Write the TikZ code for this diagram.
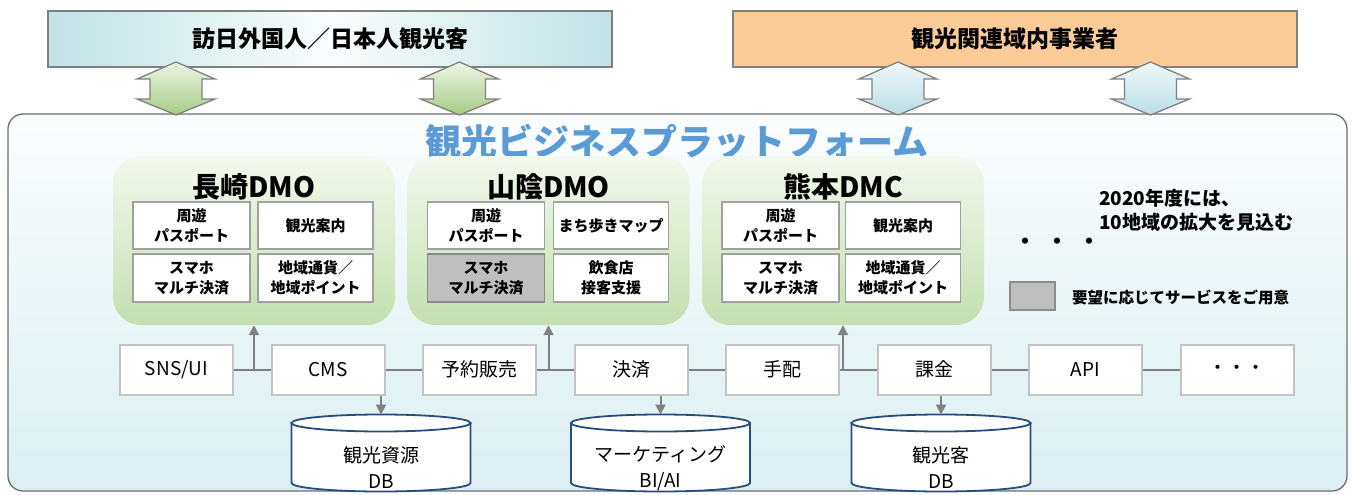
\documentclass[tikz,border=0pt]{standalone}
\usepackage{fontspec}
\setmainfont{Noto Sans CJK JP}
\usetikzlibrary{arrows.meta,calc}
\definecolor{tealE}{RGB}{193,226,229}
\definecolor{tealM}{RGB}{250,253,253}
\definecolor{peach}{RGB}{251,203,152}
\definecolor{gborder}{RGB}{128,128,128}
\definecolor{platT}{RGB}{251,253,254}
\definecolor{platB}{RGB}{219,239,242}
\definecolor{platD}{RGB}{110,110,110}
\definecolor{dmoT}{RGB}{243,249,238}
\definecolor{dmoB}{RGB}{196,223,175}
\definecolor{iboxB}{RGB}{160,160,160}
\definecolor{gfill}{RGB}{191,191,191}
\definecolor{gfillB}{RGB}{140,140,140}
\definecolor{rboxB}{RGB}{195,195,195}
\definecolor{connC}{RGB}{128,128,128}
\definecolor{navyC}{RGB}{38,78,125}
\definecolor{titleblue}{RGB}{91,155,213}
\definecolor{garT}{RGB}{238,245,230}
\definecolor{garB}{RGB}{165,204,130}
\definecolor{barT}{RGB}{240,248,250}
\definecolor{barB}{RGB}{186,222,230}
\newcommand\DblArr[2]{\path[#2] (#1,62) -- (#1+39,79) -- (#1+26,79) -- (#1+26,99) -- (#1+39,99) -- (#1,115) -- (#1-39,99) -- (#1-26,99) -- (#1-26,79) -- (#1-39,79) -- cycle;}
\newcommand\DBCyl[3]{%
  \begin{scope}[shift={(#1,0)}]
    \path[cyl] (-89.5,423) -- (-89.5,483) arc[start angle=180,end angle=360,x radius=89.5pt,y radius=8.5pt] -- (89.5,423) -- cycle;
    \path[cyl] (0,423) ellipse[x radius=89.5pt,y radius=8.5pt];
    \coordinate (#2) at (0,414.5);
    \node[cyltext] (#2t) at (0,468) {#3};
  \end{scope}}
\begin{document}
\begin{tikzpicture}[x=1pt,y=-1pt,
  topbox/.style={draw=gborder,line width=1.3pt,minimum width=564pt,minimum height=56pt,inner sep=0pt,font=\fontsize{23}{26}\selectfont\bfseries},
  mainbox/.style={draw=platD,line width=1.3pt,rounded corners=15pt,top color=platT,bottom color=platB,minimum width=1339pt,minimum height=377pt,inner sep=0pt},
  dmo/.style={rounded corners=28pt,top color=dmoT,bottom color=dmoB,draw=none,minimum width=282pt,minimum height=169pt,inner sep=0pt},
  dmotitle/.style={font=\fontsize{28}{30}\selectfont\bfseries,inner sep=0pt},
  ibox/.style={draw=iboxB,line width=1.5pt,fill=white,align=center,font=\fontsize{15}{20}\selectfont\bfseries,inner sep=0pt},
  iboxA/.style={ibox,minimum width=117pt},
  iboxB/.style={ibox,minimum width=115pt},
  rbox/.style={draw=rboxB,line width=2pt,fill=white,minimum width=113pt,minimum height=50pt,inner sep=0pt,font=\fontsize{19}{22}\selectfont},
  conn/.style={draw=connC,line width=2pt},
  arr/.style={conn,-{Triangle[width=10pt,length=10pt]}},
  cyl/.style={draw=navyC,line width=1.8pt,fill=white},
  cyltext/.style={align=center,font=\fontsize{19}{26}\selectfont,inner sep=0pt},
  garrow/.style={draw=gborder,line width=1.3pt,top color=garT,bottom color=garB},
  barrow/.style={draw=gborder,line width=1.3pt,top color=barT,bottom color=barB}]
\useasboundingbox (0,0) rectangle (1352,495);
% platform
\node[mainbox] (plat) at (677.5,302.5) {};
% top boxes
\node[topbox,left color=tealE,right color=tealE,middle color=tealM] (guest) at (330,39) {訪日外国人／日本人観光客};
\node[topbox,fill=peach] (biz) at (1015,39) {観光関連域内事業者};
% double arrows
\DblArr{176}{garrow}
\DblArr{459.5}{garrow}
\DblArr{898}{barrow}
\DblArr{1150.5}{barrow}
% title
\node[font=\fontsize{36}{40}\selectfont\bfseries,text=titleblue,inner sep=0pt] (title) at (677,142) {観光ビジネスプラットフォーム};
% DMOs
\node[dmo] (nag) at (254,240.5) {};
\node[dmo] (san) at (548.5,240.5) {};
\node[dmo] (kum) at (843,240.5) {};
\node[dmotitle] (nagt) at (254,187) {長崎DMO};
\node[dmotitle] (sant) at (548.5,187) {山陰DMO};
\node[dmotitle] (kumt) at (843,187) {熊本DMC};
% Nagasaki inner
\node[iboxA,minimum height=47pt] (n1) at (191.5,225.5) {周遊\\パスポート};
\node[iboxB,minimum height=47pt] (n2) at (315.5,225.5) {観光案内};
\node[iboxA,minimum height=48pt] (n3) at (191.5,278) {スマホ\\マルチ決済};
\node[iboxB,minimum height=48pt] (n4) at (315.5,278) {地域通貨／\\地域ポイント};
% San'in inner
\node[iboxA,minimum height=47pt] (s1) at (486,225.5) {周遊\\パスポート};
\node[iboxB,minimum height=47pt] (s2) at (611,225.5) {まち歩きマップ};
\node[iboxA,minimum height=48pt,fill=gfill,draw=gfillB] (s3) at (486,278) {スマホ\\マルチ決済};
\node[iboxB,minimum height=48pt] (s4) at (611,278) {飲食店\\接客支援};
% Kumamoto inner
\node[iboxA,minimum height=47pt] (k1) at (780.5,225.5) {周遊\\パスポート};
\node[iboxB,minimum height=47pt] (k2) at (903,225.5) {観光案内};
\node[iboxA,minimum height=48pt] (k3) at (780.5,278) {スマホ\\マルチ決済};
\node[iboxB,minimum height=48pt] (k4) at (903,278) {地域通貨／\\地域ポイント};
% right notes
\node[anchor=west,align=left,font=\fontsize{19}{24}\selectfont\bfseries,inner sep=0pt] (note) at (1099,210) {2020年度には、\\10地域の拡大を見込む};
\node[font=\fontsize{22}{24}\selectfont\bfseries,inner sep=0pt] (more) at (1057,244) {・\hspace{10pt}・\hspace{10pt}・};
\node[draw=gfillB,line width=1.3pt,fill=gfill,minimum width=45pt,minimum height=28pt,inner sep=0pt] (leg) at (1032.5,296) {};
\node[anchor=west,font=\fontsize{15.5}{18}\selectfont\bfseries,inner sep=0pt] (legt) at (1072,297) {要望に応じてサービスをご用意};
% bottom row
\node[rbox] (sns) at (176.5,369.5) {SNS/UI};
\node[rbox] (cms) at (328,369.5) {CMS};
\node[rbox] (yoy) at (479.5,369.5) {予約販売};
\node[rbox] (kes) at (631,369.5) {決済};
\node[rbox] (teh) at (782.5,369.5) {手配};
\node[rbox] (kak) at (934,369.5) {課金};
\node[rbox] (api) at (1085.5,369.5) {API};
\node[rbox] (etc) at (1237,369.5) {・・・};
\draw[conn] (sns) -- (cms) (cms) -- (yoy) (yoy) -- (kes) (kes) -- (teh) (teh) -- (kak) (kak) -- (api) (api) -- (etc);
\draw[arr] (nag.south |- sns.east) -- (nag.south);
\draw[arr] (san.south |- yoy.east) -- (san.south);
\draw[arr] (kum.south |- teh.east) -- (kum.south);
% databases
\DBCyl{381}{db1}{観光資源\\DB}
\DBCyl{660.5}{db2}{マーケティング\\BI/AI}
\DBCyl{941}{db3}{観光客\\DB}
\draw[arr] (db1 |- cms.south) -- (db1);
\draw[arr] (db2 |- kes.south) -- (db2);
\draw[arr] (db3 |- kak.south) -- (db3);
\end{tikzpicture}
\end{document}
